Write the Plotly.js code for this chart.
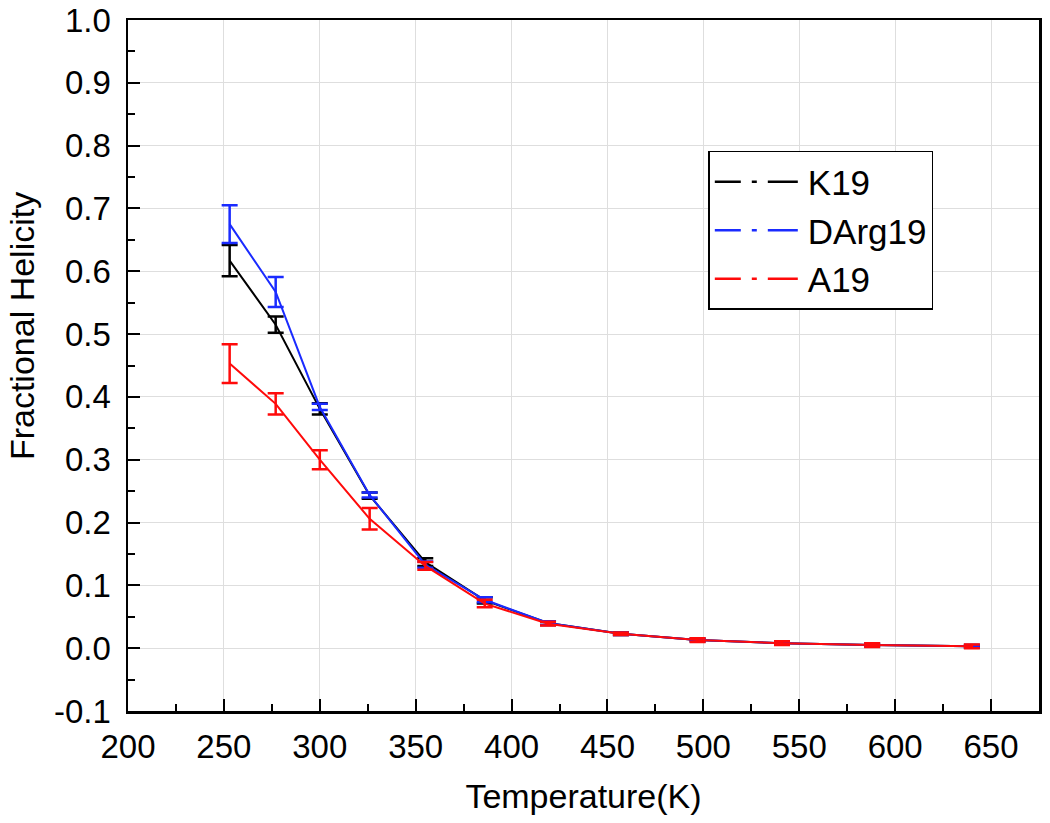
<!DOCTYPE html>
<html>
<head>
<meta charset="utf-8">
<script src="https://cdn.plot.ly/plotly-3.0.1.min.js"></script>
<style>html,body{margin:0;padding:0;background:#fff;}#chart{width:1050px;height:823px;}</style>
</head>
<body>
<div id="chart"></div>
<script>
const temperature = [253, 277, 300, 326, 355, 386, 419, 457, 497, 541, 588, 640];
const seriesNames = ["K19", "DArg19", "A19"];
const k19 = [0.617, 0.515, 0.381, 0.243, 0.137, 0.076, 0.040, 0.023, 0.013, 0.008, 0.005, 0.003];
const k19Err = [0.025, 0.013, 0.009, 0.005, 0.006, 0.005, 0.003, 0.002, 0.002, 0.002, 0.002, 0.002];
const darg19 = [0.675, 0.567, 0.384, 0.244, 0.133, 0.077, 0.040, 0.023, 0.013, 0.008, 0.005, 0.003];
const darg19Err = [0.030, 0.024, 0.005, 0.004, 0.005, 0.004, 0.003, 0.002, 0.002, 0.002, 0.002, 0.002];
const a19 = [0.453, 0.389, 0.300, 0.206, 0.131, 0.071, 0.039, 0.023, 0.013, 0.008, 0.005, 0.003];
const a19Err = [0.031, 0.017, 0.015, 0.017, 0.006, 0.006, 0.003, 0.002, 0.003, 0.003, 0.003, 0.003];
const colors = ["#000000", "#1a2bff", "#ff0a0a"];
const xTicks = [200, 250, 300, 350, 400, 450, 500, 550, 600, 650];
const yTicks = [-0.1, 0.0, 0.1, 0.2, 0.3, 0.4, 0.5, 0.6, 0.7, 0.8, 0.9, 1.0];
const yTickLabels = ["-0.1", "0.0", "0.1", "0.2", "0.3", "0.4", "0.5", "0.6", "0.7", "0.8", "0.9", "1.0"];
const xTitle = "Temperature(K)";
const yTitle = "Fractional Helicity";

const ys = [k19, darg19, a19];
const errs = [k19Err, darg19Err, a19Err];
const font = "Liberation Sans, Arial, sans-serif";

const traces = [];
for (let i = 0; i < 3; i++) {
  traces.push({
    x: temperature, y: ys[i], type: "scatter", mode: "lines",
    line: {color: colors[i], width: 2},
    error_y: {type: "data", array: errs[i], visible: true, color: colors[i], thickness: 2.5, width: 8},
    showlegend: false, name: seriesNames[i], legendgroup: seriesNames[i]
  });
}
for (let i = 0; i < 3; i++) {
  traces.push({
    x: [null], y: [null], type: "scatter", mode: "lines",
    line: {color: colors[i], width: 2.5, dash: "26px,11px,5px,11px,30px"},
    name: seriesNames[i], legendgroup: seriesNames[i], showlegend: true
  });
}

const layout = {
  width: 1050, height: 823,
  margin: {l: 128, r: 11, t: 20, b: 112},
  paper_bgcolor: "#ffffff", plot_bgcolor: "#ffffff",
  font: {family: font, size: 33, color: "#000"},
  showlegend: true,
  legend: {
    x: 0.637, y: 0.8105, xanchor: "left", yanchor: "top",
    bordercolor: "#000", borderwidth: 1.5, bgcolor: "#fff",
    font: {family: font, size: 35, color: "#000"},
    tracegroupgap: 0, itemwidth: 88
  },
  xaxis: {
    range: [200, 675], tickvals: xTicks, ticktext: xTicks.map(String),
    showline: true, linecolor: "#000", linewidth: 2.5, mirror: true,
    ticks: "inside", ticklen: 12, tickwidth: 2, tickcolor: "#000",
    showgrid: true, gridcolor: "#dedede", gridwidth: 1, zeroline: false,
    minor: {ticks: "inside", ticklen: 7, tickwidth: 2, tickcolor: "#000", dtick: 25, tick0: 200, showgrid: false},
    tickfont: {family: font, size: 33, color: "#000"},
    ticklabelstandoff: 5,
    title: {text: xTitle, font: {family: font, size: 34, color: "#000"}, standoff: 20}
  },
  yaxis: {
    range: [-0.1, 1.0], tickvals: yTicks, ticktext: yTickLabels,
    showline: true, linecolor: "#000", linewidth: 2.5, mirror: true,
    ticks: "inside", ticklen: 12, tickwidth: 2, tickcolor: "#000",
    showgrid: true, gridcolor: "#dedede", gridwidth: 1, zeroline: false,
    minor: {ticks: "inside", ticklen: 7, tickwidth: 2, tickcolor: "#000", dtick: 0.05, tick0: 0, showgrid: false},
    tickfont: {family: font, size: 33, color: "#000"},
    ticklabelstandoff: 8
  },
  annotations: [{
    text: yTitle, xref: "paper", yref: "paper", x: -0.1164, y: 0.557,
    xanchor: "center", yanchor: "middle", textangle: -90, showarrow: false,
    font: {family: font, size: 34, color: "#000"}
  }]
};

Plotly.newPlot("chart", traces, layout, {displayModeBar: false, staticPlot: true});
</script>
</body>
</html>
